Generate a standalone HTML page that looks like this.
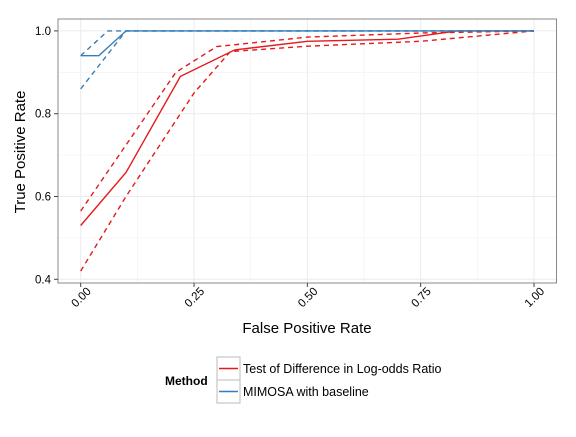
<!DOCTYPE html>
<html><head><meta charset="utf-8"><style>
body{margin:0;background:#fff;font-family:"Liberation Sans",Arial,sans-serif}
</style></head><body>
<svg id="chart" width="576" height="432" xmlns="http://www.w3.org/2000/svg">
<rect x="0" y="0" width="576" height="432" fill="#fff"/>
<g id="grid"></g>
<g id="lines"></g>
<rect x="58" y="19" width="498.5" height="264" fill="none" stroke="#888" stroke-width="1"/>
<g id="axes" font-size="11.5" fill="#000"></g>
<text x="307" y="333" font-size="15" text-anchor="middle">False Positive Rate</text>
<text x="25" y="152" font-size="15" text-anchor="middle" transform="rotate(-90 25 152)">True Positive Rate</text>
<g>
<text x="165" y="385" font-size="12" font-weight="bold">Method</text>
<rect x="217" y="357" width="23" height="23" fill="#fff" stroke="#bbb"/>
<line x1="219" y1="368.5" x2="238" y2="368.5" stroke="#e41a1c" stroke-width="1.5"/>
<rect x="217" y="380" width="23" height="23" fill="#fff" stroke="#bbb"/>
<line x1="219" y1="391.5" x2="238" y2="391.5" stroke="#377eb8" stroke-width="1.5"/>
<text x="243" y="373" font-size="12.5">Test of Difference in Log-odds Ratio</text>
<text x="243" y="396" font-size="12.5">MIMOSA with baseline</text>
</g>
</svg>
<script>
const xTicks=[0,0.25,0.5,0.75,1];
const xTickLabels=["0.00","0.25","0.50","0.75","1.00"];
const yTicks=[0.4,0.6,0.8,1.0];
const yTickLabels=["0.4","0.6","0.8","1.0"];
const redFpr=[0,0.1,0.22,0.34,0.5,0.7,0.83,1];
const redTpr=[0.53,0.658,0.89,0.954,0.975,0.98,1,1];
const redUpFpr=[0,0.21,0.3,0.5,0.75,1];
const redUpTpr=[0.565,0.9,0.962,0.985,0.995,1];
const redLoFpr=[0,0.1,0.25,0.33,0.5,0.75,1];
const redLoTpr=[0.42,0.6,0.85,0.95,0.963,0.975,1];
const blueFpr=[0,0.04,0.1,1];
const blueTpr=[0.94,0.94,1,1];
const blueUpFpr=[0,0.06,1];
const blueUpTpr=[0.94,1,1];
const blueLoFpr=[0,0.1,1];
const blueLoTpr=[0.86,1,1];
const NS="http://www.w3.org/2000/svg";
const X=v=>80.7+v*453.3;
const Y=v=>279.3-(v-0.4)*414;
const grid=document.getElementById('grid'),axes=document.getElementById('axes'),lines=document.getElementById('lines');
function mk(t,a,p){const e=document.createElementNS(NS,t);for(const k in a)e.setAttribute(k,a[k]);p.appendChild(e);return e;}
for(let i=0;i<xTicks.length;i++){
 const x=X(xTicks[i]);
 const g=mk('line',{x1:x,x2:x,y1:19,y2:283,stroke:'#ebebeb','stroke-width':1},grid);
 
 
 if(i<xTicks.length-1){mk('line',{x1:X(xTicks[i]+0.125),x2:X(xTicks[i]+0.125),y1:19,y2:283,stroke:'#f4f4f4','stroke-width':0.8},grid);}
 mk('line',{x1:x,x2:x,y1:283,y2:287,stroke:'#444'},axes);
 const t=mk('text',{x:x+11,y:292,'text-anchor':'end',transform:`rotate(-45 ${x+11} 292)`},axes);
 t.textContent=xTickLabels[i];
 
 
}
for(let i=0;i<yTicks.length;i++){
 const y=Y(yTicks[i]);
 const g=mk('line',{x1:58,x2:556,y1:y,y2:y,stroke:'#ebebeb','stroke-width':1},grid);
 
 
 if(i<yTicks.length-1){mk('line',{x1:58,x2:556,y1:Y(yTicks[i]+0.1),y2:Y(yTicks[i]+0.1),stroke:'#f4f4f4','stroke-width':0.8},grid);}
 mk('line',{x1:54,x2:58,y1:y,y2:y,stroke:'#444'},axes);
 const t=mk('text',{x:51,y:y+4,'text-anchor':'end'},axes);
 t.textContent=yTickLabels[i];
 
 
}
function series(xs,ys,color,dash,name){
 const d=xs.map((v,i)=>(i?'L':'M')+X(v).toFixed(1)+','+Y(ys[i]).toFixed(1)).join(' ');
 const p=mk('path',{d:d,fill:'none',stroke:color,'stroke-width':1.4},lines);
 if(dash)p.setAttribute('stroke-dasharray','5,4');
 
 
}
series(redUpFpr,redUpTpr,'#e41a1c',true,'red-upper-ci');
series(redLoFpr,redLoTpr,'#e41a1c',true,'red-lower-ci');
series(redFpr,redTpr,'#e41a1c',false,'red-roc-line');
series(blueUpFpr,blueUpTpr,'#377eb8',true,'blue-upper-ci');
series(blueLoFpr,blueLoTpr,'#377eb8',true,'blue-lower-ci');
series(blueFpr,blueTpr,'#377eb8',false,'blue-roc-line');
</script>
</body></html>
